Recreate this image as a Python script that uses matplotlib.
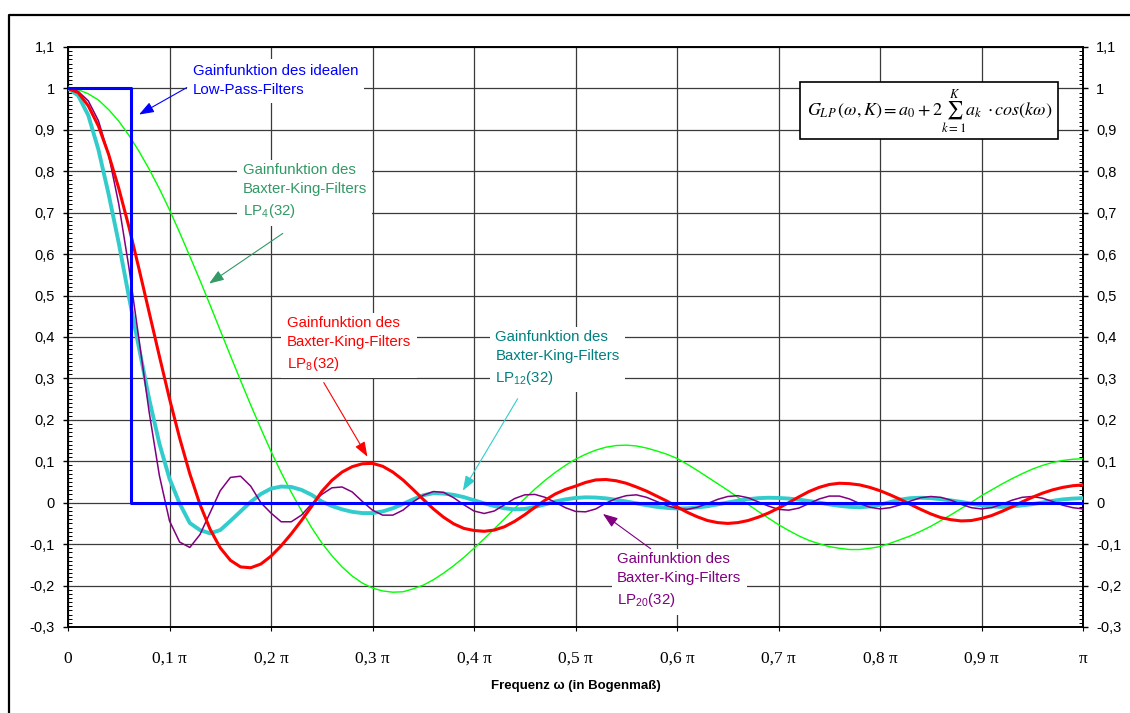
import numpy as np
import matplotlib
matplotlib.use('Agg')
import matplotlib.pyplot as plt
from matplotlib.ticker import MultipleLocator, FuncFormatter
from matplotlib.lines import Line2D
from matplotlib.patches import Rectangle

plt.rcParams['font.family'] = ['Liberation Sans', 'DejaVu Sans']
plt.rcParams['mathtext.fontset'] = 'stix'

freq = np.linspace(0, 1, 101)

# idealer Tiefpass, Grenzfrequenz pi/16
ideal_x = [0.0, 0.0625, 0.0625, 1.0]
ideal_y = [1.0, 1.0, 0.0, 0.0]

# Gainfunktionen Baxter-King LP_K(32)
gain_lp4 = [1.000, 0.997, 0.987, 0.972, 0.949, 0.921, 0.887, 0.848, 0.805, 0.758,
            0.707, 0.652, 0.595, 0.537, 0.477, 0.416, 0.355, 0.295, 0.236, 0.179,
            0.124, 0.073, 0.025, -0.019, -0.060, -0.097, -0.128, -0.155, -0.177, -0.194,
            -0.206, -0.213, -0.216, -0.215, -0.208, -0.199, -0.186, -0.170, -0.152, -0.132,
            -0.110, -0.087, -0.063, -0.039, -0.014, 0.010, 0.033, 0.054, 0.073, 0.090,
            0.105, 0.117, 0.127, 0.134, 0.138, 0.139, 0.137, 0.132, 0.125, 0.117,
            0.107, 0.093, 0.078, 0.062, 0.046, 0.030, 0.013, -0.004, -0.021, -0.037,
            -0.053, -0.067, -0.080, -0.091, -0.099, -0.106, -0.110, -0.113, -0.113, -0.110,
            -0.106, -0.098, -0.089, -0.080, -0.069, -0.057, -0.043, -0.029, -0.014, 0.001,
            0.017, 0.031, 0.045, 0.058, 0.070, 0.081, 0.090, 0.097, 0.102, 0.105,
            0.106]

gain_lp8 = [1.000, 0.990, 0.958, 0.909, 0.841, 0.759, 0.666, 0.564, 0.459, 0.354,
            0.251, 0.156, 0.070, -0.004, -0.064, -0.109, -0.139, -0.155, -0.157, -0.148,
            -0.129, -0.104, -0.075, -0.043, -0.009, 0.027, 0.054, 0.074, 0.087, 0.094,
            0.095, 0.088, 0.074, 0.055, 0.032, 0.008, -0.015, -0.035, -0.051, -0.062,
            -0.067, -0.069, -0.066, -0.058, -0.045, -0.029, -0.011, 0.006, 0.021, 0.032,
            0.040, 0.049, 0.055, 0.056, 0.053, 0.047, 0.038, 0.028, 0.016, 0.004,
            -0.010, -0.023, -0.034, -0.043, -0.048, -0.050, -0.048, -0.043, -0.035, -0.025,
            -0.013, 0.000, 0.014, 0.027, 0.037, 0.044, 0.047, 0.046, 0.043, 0.037,
            0.029, 0.019, 0.008, -0.004, -0.016, -0.027, -0.036, -0.041, -0.044, -0.043,
            -0.038, -0.031, -0.021, -0.010, 0.002, 0.013, 0.023, 0.031, 0.037, 0.041,
            0.043]

gain_lp12 = [1.000, 0.983, 0.935, 0.852, 0.745, 0.627, 0.497, 0.373, 0.250, 0.143,
             0.058, -0.002, -0.049, -0.066, -0.074, -0.066, -0.044, -0.021, 0.002, 0.021,
             0.034, 0.039, 0.038, 0.031, 0.019, 0.003, -0.008, -0.016, -0.022, -0.025,
             -0.025, -0.021, -0.0135, -0.003, 0.008, 0.018, 0.023, 0.022, 0.019, 0.0135,
             0.006, -0.0015, -0.008, -0.0135, -0.016, -0.015, -0.0105, -0.004, 0.003, 0.008,
             0.0115, 0.013, 0.0125, 0.0105, 0.007, 0.003, -0.0015, -0.006, -0.010, -0.0125,
             -0.014, -0.0135, -0.0115, -0.0085, -0.004, 0.0005, 0.005, 0.0085, 0.011, 0.012,
             0.0115, 0.010, 0.0075, 0.004, 0.0005, -0.004, -0.0075, -0.010, -0.011, -0.009,
             -0.005, 0.0015, 0.0075, 0.011, 0.012, 0.011, 0.0085, 0.0055, 0.002, -0.0025,
             -0.0065, -0.009, -0.010, -0.009, -0.0065, -0.0035, 0.0005, 0.0045, 0.008, 0.010,
             0.011]

gain_lp20 = [1.000, 0.993, 0.970, 0.922, 0.840, 0.721, 0.568, 0.393, 0.218, 0.066,
             -0.044, -0.095, -0.108, -0.077, -0.024, 0.029, 0.061, 0.064, 0.040, 0.000,
             -0.025, -0.046, -0.046, -0.030, -0.003, 0.020, 0.036, 0.038, 0.026, 0.003,
             -0.018, -0.030, -0.030, -0.018, 0.002, 0.018, 0.027, 0.025, 0.012, -0.005,
             -0.020, -0.026, -0.020, -0.005, 0.010, 0.019, 0.020, 0.013, 0.001, -0.012,
             -0.021, -0.022, -0.015, -0.001, 0.010, 0.017, 0.019, 0.013, 0.003, -0.007,
             -0.014, -0.016, -0.011, -0.002, 0.008, 0.015, 0.017, 0.012, 0.002, -0.008,
             -0.016, -0.018, -0.013, -0.002, 0.009, 0.016, 0.016, 0.009, -0.002, -0.011,
             -0.015, -0.012, -0.005, 0.004, 0.012, 0.015, 0.013, 0.006, -0.004, -0.012,
             -0.015, -0.012, -0.004, 0.006, 0.013, 0.015, 0.011, 0.003, -0.006, -0.012,
             -0.015]

xtick_pos = [0.0, 0.1, 0.2, 0.3, 0.4, 0.5, 0.6, 0.7, 0.8, 0.9, 1.0]
xtick_labels = ['0', '0,1 π', '0,2 π', '0,3 π', '0,4 π', '0,5 π',
                '0,6 π', '0,7 π', '0,8 π', '0,9 π', 'π']


def komma(v, pos):
    s = f'{v:.1f}'.replace('.', ',')
    if s.endswith(',0'):
        s = s[:-2]
    if s == '-0':
        s = '0'
    return s


fig = plt.figure(figsize=(11.3, 7.13), dpi=100)
ax = fig.add_axes([68 / 1130, 86 / 713, 1015 / 1130, 580 / 713])

ax.plot(freq, gain_lp4, color='#00FF00', lw=1.0, zorder=4)
ax.plot(freq, gain_lp12, color='#33CCCC', lw=2.8, zorder=5)
ax.plot(freq, gain_lp20, color='#800080', lw=1.1, zorder=6)
ax.plot(freq, gain_lp8, color='#FF0000', lw=2.2, zorder=7)
ax.plot(ideal_x, ideal_y, color='#0000FF', lw=2.2, zorder=8)

ax.set_xlim(0, 1)
ax.set_ylim(-0.3, 1.1)

ax.set_xticks(xtick_pos)
ax.set_xticklabels(xtick_labels, fontfamily='Liberation Serif', fontsize=12.5)
ax.tick_params(axis='x', which='major', direction='out', length=3, pad=14)

ax.yaxis.set_major_locator(MultipleLocator(0.1))
ax.yaxis.set_minor_locator(MultipleLocator(0.01))
ax.yaxis.set_major_formatter(FuncFormatter(komma))
ax.tick_params(axis='y', which='major', direction='out', length=3.5, width=1,
               labelsize=10.5, left=True, right=True, labelleft=True,
               labelright=True, pad=6)
ax.tick_params(axis='y', which='minor', direction='in', length=3, width=0.7,
               left=True, right=True)

ax.grid(True, which='major', color='#3a3a3a', lw=0.9)
ax.set_axisbelow(True)
for sp in ax.spines.values():
    sp.set_linewidth(1.4)

ax.set_xlabel('Frequenz ω (in Bogenmaß)', fontsize=9.5, fontweight='bold', labelpad=10)

# Beschriftungen mit Pfeilen
labels = [
    (0.123, 1.019, 'Gainfunktion des idealen\nLow-Pass-Filters', '#0000FF',
     (0.117, 1.002), (0.070, 0.937), '#0000FF'),
    (0.172, 0.751, 'Gainfunktion des\nBaxter-King-Filters\nLP$_\\mathregular{4}$(32)', '#339966',
     (0.2116, 0.650), (0.139, 0.529), '#339966'),
    (0.2156, 0.382, 'Gainfunktion des\nBaxter-King-Filters\nLP$_\\mathregular{8}$(32)', '#FF0000',
     (0.252, 0.290), (0.295, 0.111), '#FF0000'),
    (0.421, 0.348, 'Gainfunktion des\nBaxter-King-Filters\nLP$_\\mathregular{12}$(32)', '#008080',
     (0.443, 0.251), (0.389, 0.029), '#33CCCC'),
    (0.541, -0.188, 'Gainfunktion des\nBaxter-King-Filters\nLP$_\\mathregular{20}$(32)', '#800080',
     (0.574, -0.111), (0.527, -0.027), '#800080'),
]
for tx, ty, txt, tcol, a_from, a_to, acol in labels:
    ax.text(tx, ty, txt, color=tcol, fontsize=10.8, ha='left', va='center',
            linespacing=1.45, zorder=3,
            bbox=dict(facecolor='white', edgecolor='none', pad=4))
    ax.annotate('', xy=a_to, xytext=a_from, zorder=9,
                arrowprops=dict(arrowstyle='-|>,head_length=0.6,head_width=0.22',
                                color=acol, lw=0.8, mutation_scale=15,
                                shrinkA=0, shrinkB=0))

# Formelkasten
ax.add_patch(Rectangle((0.7215, 0.877), 0.254, 0.1375, facecolor='white',
                       edgecolor='black', lw=1.2, zorder=9))
ax.text(0.849, 0.944,
        r'$G_{LP}\,(\omega, K) = a_0 + 2\sum_{k=1}^{K} a_k\;\cdot cos(k\omega)$',
        ha='center', va='center', fontsize=13, zorder=10)

# Rahmen um die Grafik
fig.add_artist(Line2D([9 / 1130, 9 / 1130, 1.0], [0.0, 1 - 15 / 713, 1 - 15 / 713],
                      color='black', lw=1.6, transform=fig.transFigure))

fig.savefig('out.png', dpi=100)
